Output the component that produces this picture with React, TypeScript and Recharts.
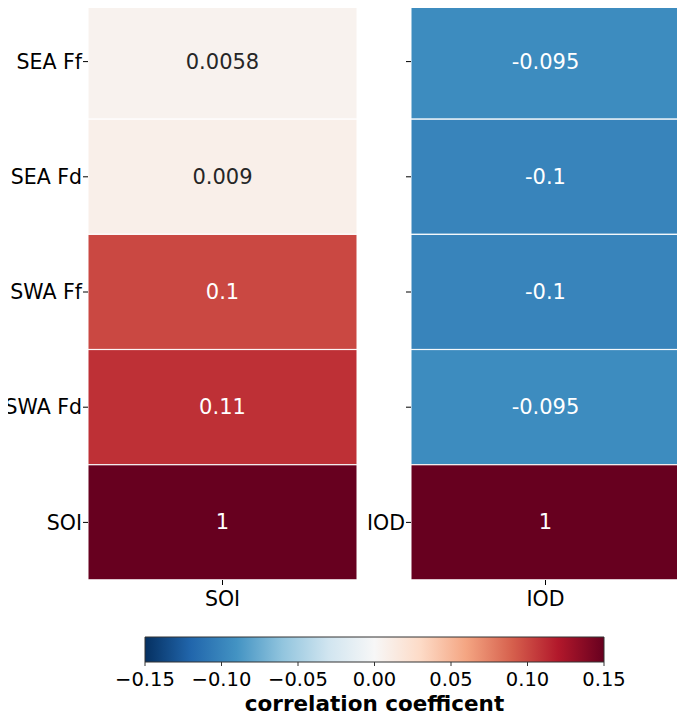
import React from 'react';
import { BarChart, Bar, XAxis, YAxis, Cell, LabelList } from 'recharts';

const rowLabels = ['SEA Ff', 'SEA Fd', 'SWA Ff', 'SWA Fd'];
const soiValues = [0.0058, 0.009, 0.1, 0.11, 1];
const iodValues = [-0.095, -0.1, -0.1, -0.095, 1];
const soiLabels = ['0.0058', '0.009', '0.1', '0.11', '1'];
const iodLabels = ['-0.095', '-0.1', '-0.1', '-0.095', '1'];
const colorbarTicks = [-0.15, -0.1, -0.05, 0, 0.05, 0.1, 0.15];
const VMIN = -0.15;
const VMAX = 0.15;

const RDBU_R = ['#053061', '#2166ac', '#4393c3', '#92c5de', '#d1e5f0', '#f7f7f7', '#fddbc7', '#f4a582', '#d6604d', '#b2182b', '#67001f'];

function hexToRgb(h: string) {
  return [parseInt(h.slice(1, 3), 16), parseInt(h.slice(3, 5), 16), parseInt(h.slice(5, 7), 16)];
}
function cmap(v: number) {
  let t = (v - VMIN) / (VMAX - VMIN);
  t = Math.max(0, Math.min(1, t));
  const p = t * (RDBU_R.length - 1);
  const i = Math.min(Math.floor(p), RDBU_R.length - 2);
  const f = p - i;
  const a = hexToRgb(RDBU_R[i]);
  const b = hexToRgb(RDBU_R[i + 1]);
  const c = a.map((x, k) => Math.round(x + (b[k] - x) * f));
  return `rgb(${c[0]},${c[1]},${c[2]})`;
}
function textColor(v: number) {
  const [r, g, b] = cmap(v).match(/\d+/g)!.map(Number);
  const lum = 0.299 * r + 0.587 * g + 0.114 * b;
  return lum > 160 ? '#262626' : '#ffffff';
}

const FONT = 'DejaVu Sans, sans-serif';
const AXIS_W = 108;

function Panel({ name, values, labels, showRowLabels, left }: { name: string; values: number[]; labels: string[]; showRowLabels: boolean; left: number }) {
  const data = values.map((v, i) => ({
    row: i < rowLabels.length ? rowLabels[i] : name,
    value: v,
    full: 1,
    label: labels[i],
  }));
  return (
    <div style={{ position: 'absolute', left, top: 0 }}>
      <BarChart
        width={269 + AXIS_W}
        height={620}
        data={data}
        layout="vertical"
        margin={{ top: 4, right: 0, bottom: 0, left: 0 }}
        barCategoryGap={0}
      >
        <XAxis
          type="number"
          domain={[0, 1]}
          ticks={[0.5]}
          tickFormatter={() => name}
          axisLine={false}
          tickSize={5}
          tickMargin={6}
          height={40}
          tick={{ fontSize: 20.5, fill: '#000', fontFamily: FONT }}
          tickLine={{ stroke: '#000' }}
        />
        <YAxis
          type="category"
          dataKey="row"
          width={AXIS_W}
          axisLine={false}
          tickSize={5}
          tickMargin={1}
          interval={0}
          tickFormatter={(v: string) => (showRowLabels || v === name ? v : '')}
          tick={{ fontSize: 20.5, fill: '#000', fontFamily: FONT }}
          tickLine={{ stroke: '#000' }}
        />
        <Bar dataKey="full" isAnimationActive={false} stroke="#ffffff" strokeWidth={1}>
          {data.map((d, i) => (
            <Cell key={i} fill={cmap(d.value)} />
          ))}
          <LabelList
            dataKey="label"
            content={(p: any) => {
              const d = data[p.index];
              return (
                <text
                  x={p.x + p.width / 2}
                  y={p.y + p.height / 2}
                  textAnchor="middle"
                  dominantBaseline="central"
                  fontSize={21}
                  fontFamily={FONT}
                  fill={textColor(d.value)}
                >
                  {p.value}
                </text>
              );
            }}
          />
        </Bar>
      </BarChart>
    </div>
  );
}

function Colorbar() {
  const data = [{ name: 'cb', range: [VMIN, VMAX] }];
  return (
    <div style={{ position: 'absolute', left: 0, top: 0 }}>
      <BarChart
        width={685}
        height={716}
        data={data}
        layout="vertical"
        margin={{ top: 637, right: 81, bottom: 0, left: 145 }}
        barCategoryGap={0}
      >
        <defs>
          <linearGradient id="rdbu" x1="0" y1="0" x2="1" y2="0">
            {RDBU_R.map((c, i) => (
              <stop key={i} offset={`${(i / (RDBU_R.length - 1)) * 100}%`} stopColor={c} />
            ))}
          </linearGradient>
        </defs>
        <XAxis
          type="number"
          domain={[VMIN, VMAX]}
          ticks={colorbarTicks}
          tickFormatter={(v: number) => (v < 0 ? '\u2212' : '') + Math.abs(v).toFixed(2)}
          axisLine={false}
          tickSize={4}
          tickMargin={6}
          height={54}
          interval={0}
          tick={{ fontSize: 19.5, fill: '#000', fontFamily: FONT }}
          tickLine={{ stroke: '#333' }}
          label={{ value: 'correlation coefficent', position: 'insideBottom', offset: 5, fontSize: 21.5, fontWeight: 'bold', fill: '#000', fontFamily: FONT }}
        />
        <YAxis type="category" dataKey="name" hide />
        <Bar dataKey="range" isAnimationActive={false} fill="url(#rdbu)" stroke="#333" strokeWidth={1} />
      </BarChart>
    </div>
  );
}

export default function App() {
  return (
    <div style={{ position: 'relative', width: 685, height: 716, margin: '-8px 0 0 -8px', background: '#fff', overflow: 'hidden' }}>
      <Colorbar />
      <Panel name="SOI" values={soiValues} labels={soiLabels} showRowLabels={true} left={88 - AXIS_W} />
      <Panel name="IOD" values={iodValues} labels={iodLabels} showRowLabels={false} left={411 - AXIS_W} />
    </div>
  );
}
